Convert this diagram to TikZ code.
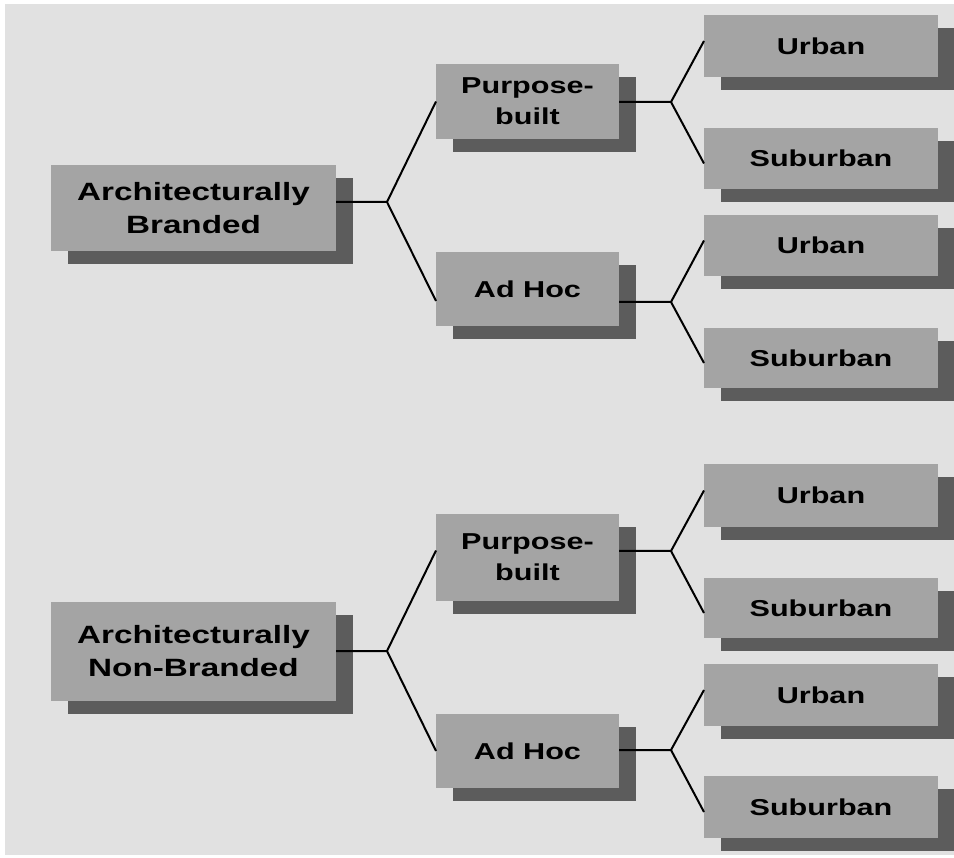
\documentclass[tikz,border=0pt]{standalone}
\usepackage{fontspec}
\setmainfont{Liberation Sans}[FakeStretch=1.33]
\usetikzlibrary{shadows}
\definecolor{bgc}{HTML}{E1E1E1}
\definecolor{boxc}{HTML}{A4A4A4}
\definecolor{shc}{HTML}{5C5C5C}
\tikzset{
  box/.style={anchor=north west, fill=boxc, inner sep=0pt, outer sep=0pt,
    align=center, font=\fontsize{23}{31}\selectfont\bfseries,
    drop shadow={shadow xshift=17pt, shadow yshift=-13pt, fill=shc, opacity=1}},
  bigbox/.style={box, font=\fontsize{25}{33}\selectfont\bfseries},
  conn/.style={draw=black, line width=2pt}
}
\begin{document}
\begin{tikzpicture}[x=1pt,y=-1pt]
\useasboundingbox (0,0) rectangle (954,858);
\fill[white] (0,0) rectangle (954,858);
\fill[bgc] (5,4) rectangle (954,855);
% level 0
\node[bigbox, minimum width=285pt, minimum height=86pt] (A) at (51,165) {Architecturally\\Branded};
\node[bigbox, minimum width=285pt, minimum height=99pt] (B) at (51,602) {Architecturally\\Non-Branded};
% level 1
\node[box, minimum width=183pt, minimum height=75pt] (P1) at (436,64) {Purpose-\\built};
\node[box, minimum width=183pt, minimum height=74pt] (H1) at (436,252) {Ad Hoc};
\node[box, minimum width=183pt, minimum height=87pt] (P2) at (436,514) {Purpose-\\built};
\node[box, minimum width=183pt, minimum height=74pt] (H2) at (436,714) {Ad Hoc};
% level 2
\node[box, minimum width=234pt, minimum height=62pt] (U1) at (704,15) {Urban};
\node[box, minimum width=234pt, minimum height=61pt] (S1) at (704,128) {Suburban};
\node[box, minimum width=234pt, minimum height=61pt] (U2) at (704,215) {Urban};
\node[box, minimum width=234pt, minimum height=60pt] (S2) at (704,328) {Suburban};
\node[box, minimum width=234pt, minimum height=63pt] (U3) at (704,464) {Urban};
\node[box, minimum width=234pt, minimum height=60pt] (S3) at (704,578) {Suburban};
\node[box, minimum width=234pt, minimum height=62pt] (U4) at (704,664) {Urban};
\node[box, minimum width=234pt, minimum height=62pt] (S4) at (704,776) {Suburban};
% junctions
\coordinate (jA) at (387,202);
\coordinate (jB) at (387,651);
\coordinate (jP1) at (671,102);
\coordinate (jH1) at (671,302);
\coordinate (jP2) at (671,551);
\coordinate (jH2) at (671,750);
% connectors level 0 -> 1
\draw[conn] (A.east |- jA) -- (jA) -- (P1.west);
\draw[conn] (jA) -- ([yshift=-12pt]H1.west);
\draw[conn] (B.east |- jB) -- (jB) -- ([yshift=7pt]P2.west);
\draw[conn] (jB) -- (H2.west);
% connectors level 1 -> 2
\draw[conn] (P1.east |- jP1) -- (jP1) -- ([yshift=5pt]U1.west);
\draw[conn] (jP1) -- ([yshift=-5pt]S1.west);
\draw[conn] (H1.east |- jH1) -- (jH1) -- ([yshift=5pt]U2.west);
\draw[conn] (jH1) -- ([yshift=-5pt]S2.west);
\draw[conn] (P2.east |- jP2) -- (jP2) -- ([yshift=5pt]U3.west);
\draw[conn] (jP2) -- ([yshift=-5pt]S3.west);
\draw[conn] (H2.east |- jH2) -- (jH2) -- ([yshift=5pt]U4.west);
\draw[conn] (jH2) -- ([yshift=-5pt]S4.west);
\end{tikzpicture}
\end{document}
